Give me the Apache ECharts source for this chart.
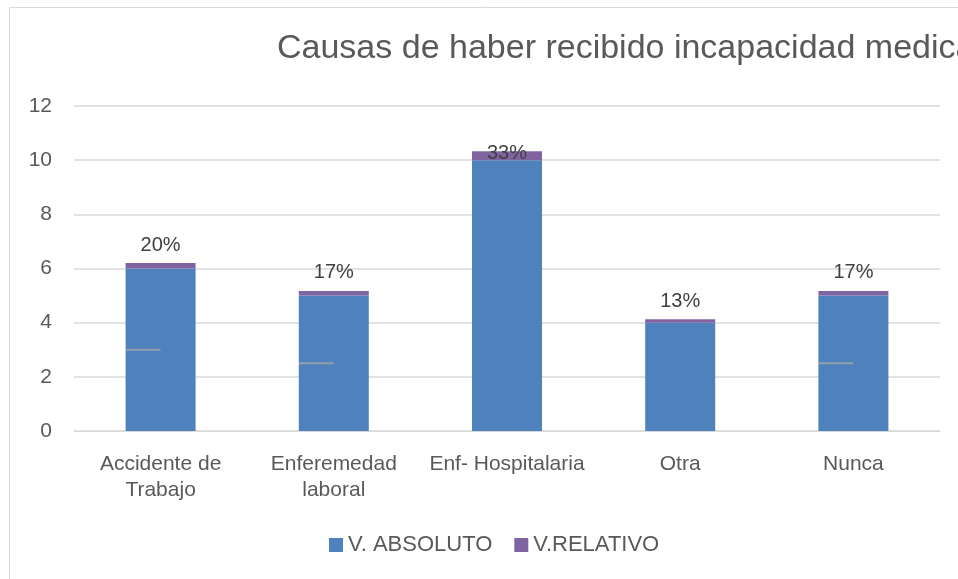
<!DOCTYPE html>
<html>
<head>
<meta charset="utf-8">
<title>Causas de haber recibido incapacidad medica</title>
<script src="https://cdn.jsdelivr.net/npm/echarts@6/dist/echarts.min.js"></script>
<style>
  html, body { margin: 0; padding: 0; background: #fff; overflow: hidden; }
  #chart { width: 958px; height: 579px; }
</style>
</head>
<body>
<div id="chart"></div>
<script>
const categories = ['Accidente de\nTrabajo', 'Enferemedad\nlaboral', 'Enf- Hospitalaria', 'Otra', 'Nunca']
const absoluto = [6, 5, 10, 4, 5]
const relativo = [0.2, 0.17, 0.33, 0.13, 0.17]
// small grey marks seen inside some bars
const marks = [3, 2.5, '-', '-', 2.5]

const font = "'Liberation Sans', Arial, sans-serif"
const chart = echarts.init(document.getElementById('chart'))

chart.setOption({
  animation: false,
  textStyle: { fontFamily: font },
  title: {
    text: 'Causas de haber recibido incapacidad medica',
    left: 277,
    top: 32,
    padding: 0,
    textStyle: { fontSize: 34, fontWeight: 'normal', color: '#595959', fontFamily: font }
  },
  graphic: [{
    type: 'rect',
    shape: { x: 9.5, y: 7.5, width: 1200, height: 1000 },
    style: { fill: 'none', stroke: '#d9d9d9', lineWidth: 1 },
    silent: true
  }],
  legend: {
    data: ['V. ABSOLUTO', 'V.RELATIVO'],
    top: 529,
    left: 324,
    itemWidth: 14,
    itemHeight: 14,
    itemGap: 22,
    icon: 'rect',
    textStyle: { fontSize: 22, color: '#595959', fontFamily: font }
  },
  grid: { left: 74, right: 18, top: 106, bottom: 148 },
  xAxis: {
    type: 'category',
    data: categories,
    axisLine: { lineStyle: { color: '#d9d9d9', width: 1 } },
    axisTick: { show: false },
    axisLabel: {
      fontSize: 21,
      color: '#595959',
      lineHeight: 26,
      margin: 20,
      interval: 0,
      fontFamily: font
    }
  },
  yAxis: {
    type: 'value',
    min: 0,
    max: 12,
    interval: 2,
    axisLine: { show: false },
    axisTick: { show: false },
    splitLine: { lineStyle: { color: '#d9d9d9', width: 1.5 } },
    axisLabel: { fontSize: 21, color: '#595959', margin: 22, fontFamily: font }
  },
  series: [
    {
      name: 'V. ABSOLUTO',
      type: 'bar',
      stack: 'total',
      barWidth: 70,
      itemStyle: { color: '#4f81bd' },
      data: absoluto
    },
    {
      name: 'V.RELATIVO',
      type: 'bar',
      stack: 'total',
      barWidth: 70,
      itemStyle: { color: '#8064a2' },
      label: {
        show: true,
        position: 'top',
        distance: 8,
        fontSize: 20,
        color: '#404040',
        fontFamily: font,
        formatter: p => Math.round(p.value * 100) + '%'
      },
      data: relativo.map((v, i) => i === 2 ? { value: v, label: { distance: -12 } } : v)
    },
    {
      name: 'marks',
      type: 'scatter',
      symbol: 'rect',
      symbolSize: [35, 2],
      symbolOffset: ['-50%', 0],
      itemStyle: { color: '#a6a6a6' },
      z: 5,
      silent: true,
      data: marks
    }
  ]
})
</script>
</body>
</html>
